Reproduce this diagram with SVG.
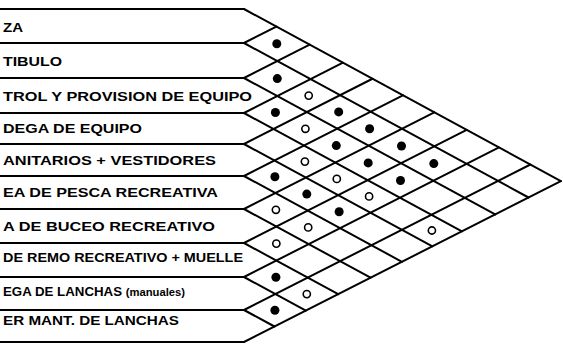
<svg xmlns="http://www.w3.org/2000/svg" width="563" height="350" viewBox="0 0 563 350">
<style>
.bg{fill:#fff}
.ln{stroke:#000;stroke-width:2;fill:none;stroke-linecap:round;stroke-linejoin:round}
.lbl{font-family:"Liberation Sans",Arial,sans-serif;font-weight:bold;font-size:13px;fill:#000}
.sm{font-size:11px}
.full{fill:#000}
.open{fill:#fff;stroke:#000;stroke-width:1.6}
</style>
<rect class="bg" x="0" y="0" width="563" height="350"/>
<g id="connectors" class="ln">
<path d="M0 9H244M0 43H244M0 78H244M0 113H244M0 144H244M0 176H244M0 209H244M0 243H244M0 277H244M0 310H244M0 342H244"/>
<path d="M244 9L560.85 181.05M244 43L528.5 197.5M244 78L495.2 214.4M244 113L461.9 231.3M244 144L432.4 246.3M244 176L401.95 261.8M244 209L370.55 277.7M244 243L338.2 294.15M244 277L305.85 310.6M244 310L274.45 326.5"/>
<path d="M244 43L276.35 26.57M244 78L309.65 44.65M244 113L342.96 62.73M244 144L372.45 78.75M244 176L402.9 95.28M244 209L434.3 112.33M244 243L466.65 129.9M244 277L499 147.46M244 310L530.4 164.5M244 342L560.85 181.04"/>
</g>
<g id="row-1"><text class="lbl" x="3" y="31.7" textLength="20" lengthAdjust="spacingAndGlyphs">ZA</text></g>
<g id="row-2"><text class="lbl" x="3" y="65.7" textLength="59" lengthAdjust="spacingAndGlyphs">TIBULO</text></g>
<g id="row-3"><text class="lbl" x="3" y="100.7" textLength="249" lengthAdjust="spacingAndGlyphs">TROL Y PROVISION DE EQUIPO</text></g>
<g id="row-4"><text class="lbl" x="3" y="132.7" textLength="139" lengthAdjust="spacingAndGlyphs">DEGA DE EQUIPO</text></g>
<g id="row-5"><text class="lbl" x="3" y="164.7" textLength="213" lengthAdjust="spacingAndGlyphs">ANITARIOS + VESTIDORES</text></g>
<g id="row-6"><text class="lbl" x="3" y="196.7" textLength="215" lengthAdjust="spacingAndGlyphs">EA DE PESCA RECREATIVA</text></g>
<g id="row-7"><text class="lbl" x="3" y="230.7" textLength="212" lengthAdjust="spacingAndGlyphs">A DE BUCEO RECREATIVO</text></g>
<g id="row-8"><text class="lbl" x="3" y="261.5" font-size="11.5" textLength="240" lengthAdjust="spacingAndGlyphs">DE REMO RECREATIVO + MUELLE</text></g>
<g id="row-9"><text class="lbl" x="3" y="295.5" textLength="182" lengthAdjust="spacingAndGlyphs">EGA DE LANCHAS <tspan class="sm">(manuales)</tspan></text></g>
<g id="row-10"><text class="lbl" x="3" y="324.5" textLength="176" lengthAdjust="spacingAndGlyphs">ER MANT. DE LANCHAS</text></g>
<g id="marks">
<circle class="full" cx="276.8" cy="43.8" r="4.5"/>
<circle class="full" cx="277.3" cy="78.6" r="4.5"/>
<circle class="full" cx="275.4" cy="112.5" r="4.5"/>
<circle class="full" cx="274.9" cy="176.8" r="4.5"/>
<circle class="full" cx="275.9" cy="277.3" r="4.5"/>
<circle class="full" cx="274.9" cy="310.3" r="4.5"/>
<circle class="full" cx="306.8" cy="194.1" r="4.5"/>
<circle class="full" cx="338.7" cy="111.9" r="4.5"/>
<circle class="full" cx="336.3" cy="145.6" r="4.5"/>
<circle class="full" cx="339.15" cy="211.7" r="4.5"/>
<circle class="full" cx="369.6" cy="128.7" r="4.5"/>
<circle class="full" cx="368.2" cy="162.9" r="4.5"/>
<circle class="full" cx="401.5" cy="146" r="4.5"/>
<circle class="full" cx="400.5" cy="180.5" r="4.5"/>
<circle class="full" cx="433.8" cy="163.6" r="4.5"/>
<circle class="open" cx="275.9" cy="209.8" r="3.6"/>
<circle class="open" cx="276.35" cy="243.6" r="3.6"/>
<circle class="open" cx="308.7" cy="95.6" r="3.6"/>
<circle class="open" cx="305.4" cy="128.8" r="3.6"/>
<circle class="open" cx="304.9" cy="161.6" r="3.6"/>
<circle class="open" cx="308.2" cy="227.4" r="3.6"/>
<circle class="open" cx="306.8" cy="294.1" r="3.6"/>
<circle class="open" cx="336.8" cy="178.9" r="3.6"/>
<circle class="open" cx="369.1" cy="196.4" r="3.6"/>
<circle class="open" cx="431.9" cy="230.5" r="3.6"/>
</g>
</svg>
